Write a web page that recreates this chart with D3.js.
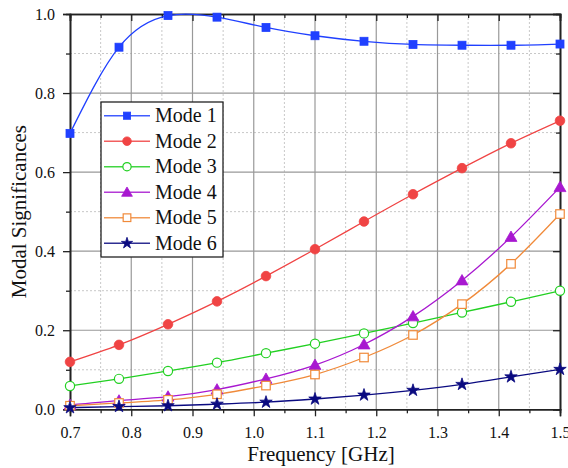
<!DOCTYPE html>
<html><head><meta charset="utf-8"><script src="https://cdn.jsdelivr.net/npm/d3@7"></script></head><body style="margin:0">
<svg id="c" width="568" height="468"></svg>
<script>
const freqs = [0.7,0.78,0.86,0.94,1.02,1.1,1.18,1.26,1.34,1.42,1.5];
const mode1 = [0.698,0.916,0.996,0.992,0.966,0.945,0.931,0.923,0.921,0.921,0.924];
const mode2 = [0.120,0.163,0.215,0.273,0.337,0.405,0.475,0.544,0.610,0.673,0.730];
const mode3 = [0.059,0.077,0.097,0.118,0.142,0.166,0.192,0.218,0.245,0.272,0.300];
const mode4 = [0.011,0.022,0.032,0.050,0.077,0.112,0.164,0.235,0.326,0.436,0.562];
const mode5 = [0.009,0.016,0.024,0.038,0.060,0.088,0.131,0.188,0.266,0.368,0.494];
const mode6 = [0.004,0.007,0.009,0.013,0.018,0.026,0.036,0.048,0.063,0.082,0.101];
const seriesNames = ["Mode 1","Mode 2","Mode 3","Mode 4","Mode 5","Mode 6"];
const xTicks = [0.7,0.8,0.9,1.0,1.1,1.2,1.3,1.4,1.5];
const yTicks = [0.0,0.2,0.4,0.6,0.8,1.0];

const series = [
  {name:seriesNames[0], vals:mode1, color:"#2040ff", marker:"square", fill:true},
  {name:seriesNames[1], vals:mode2, color:"#f04444", marker:"circle", fill:true},
  {name:seriesNames[2], vals:mode3, color:"#22d022", marker:"circle", fill:false},
  {name:seriesNames[3], vals:mode4, color:"#a818d0", marker:"triangle", fill:true},
  {name:seriesNames[4], vals:mode5, color:"#f08a3a", marker:"square", fill:false},
  {name:seriesNames[5], vals:mode6, color:"#0a0a80", marker:"star", fill:true}
];

const svg = d3.select("#c");
const L=70, R=560, T=14, B=409.3;
const x = d3.scaleLinear().domain([0.7,1.5]).range([L,R]);
const y = d3.scaleLinear().domain([0,1]).range([B,T]);

function txt(sel, size){
  return sel.attr("font-family","\"Times New Roman\"").attr("font-size",size).attr("fill","#111");
}

const g = svg.append("g");
const minorX = d3.range(0.75,1.5,0.1);
const minorY = d3.range(0.1,1.0,0.2);
g.selectAll(".mx").data(minorX).enter().append("line")
  .attr("x1",d=>x(d)).attr("x2",d=>x(d)).attr("y1",T).attr("y2",B)
  .attr("stroke","#c8c8c8").attr("stroke-width",1).attr("stroke-dasharray","2,2");
g.selectAll(".my").data(minorY).enter().append("line")
  .attr("y1",d=>y(d)).attr("y2",d=>y(d)).attr("x1",L).attr("x2",R)
  .attr("stroke","#c8c8c8").attr("stroke-width",1).attr("stroke-dasharray","2,2");
g.selectAll(".Mx").data(xTicks.slice(1,-1)).enter().append("line")
  .attr("x1",d=>x(d)).attr("x2",d=>x(d)).attr("y1",T).attr("y2",B)
  .attr("stroke","#999").attr("stroke-width",1.2);
g.selectAll(".My").data(yTicks.slice(1,-1)).enter().append("line")
  .attr("y1",d=>y(d)).attr("y2",d=>y(d)).attr("x1",L).attr("x2",R)
  .attr("stroke","#999").attr("stroke-width",1.2);

const fmt = d3.format(".1f");
function styleAxis(sel){
  sel.attr("font-family",null).attr("font-size",null);
  sel.selectAll("path").attr("stroke","#222").attr("stroke-width",1.6);
  sel.selectAll("line").attr("stroke","#222").attr("stroke-width",1.3);
  txt(sel.selectAll("text"),16);
}
svg.append("g").attr("transform",`translate(0,${B})`).call(d3.axisBottom(x).tickValues(minorX).tickSize(4).tickFormat("")).call(styleAxis);
svg.append("g").attr("transform",`translate(0,${T})`).call(d3.axisTop(x).tickValues(minorX).tickSize(-4).tickFormat("")).call(styleAxis);
svg.append("g").attr("transform",`translate(${L},0)`).call(d3.axisLeft(y).tickValues(minorY).tickSize(4).tickFormat("")).call(styleAxis);
svg.append("g").attr("transform",`translate(${R},0)`).call(d3.axisRight(y).tickValues(minorY).tickSize(-4).tickFormat("")).call(styleAxis);
svg.append("g").attr("transform",`translate(0,${B})`).call(d3.axisBottom(x).tickValues(xTicks).tickSize(7).tickPadding(10).tickFormat(fmt)).call(styleAxis);
svg.append("g").attr("transform",`translate(0,${T})`).call(d3.axisTop(x).tickValues(xTicks).tickSize(-7).tickFormat("")).call(styleAxis);
svg.append("g").attr("transform",`translate(${L},0)`).call(d3.axisLeft(y).tickValues(yTicks).tickSize(7).tickPadding(8).tickFormat(fmt)).call(styleAxis);
svg.append("g").attr("transform",`translate(${R},0)`).call(d3.axisRight(y).tickValues(yTicks).tickSize(-7).tickFormat("")).call(styleAxis);

svg.append("clipPath").attr("id","clip").append("rect").attr("x",L).attr("y",T-1).attr("width",R-L).attr("height",B-T+1);

function drawMarker(sel, s, cx, cy, scale){
  const k = scale||1;
  let el;
  if(s.marker==="square"){
    const a = (s.fill?8:8.5)*k;
    el = sel.append("rect").attr("x",cx-a/2).attr("y",cy-a/2).attr("width",a).attr("height",a);
  } else if(s.marker==="circle"){
    el = sel.append("circle").attr("cx",cx).attr("cy",cy).attr("r",(s.fill?4.8:4.6)*k);
  } else if(s.marker==="triangle"){
    el = sel.append("path").attr("d",d3.symbol(d3.symbolTriangle,62*k*k)()).attr("transform",`translate(${cx},${cy+1})`);
  } else {
    el = sel.append("path").attr("d",d3.symbol(d3.symbolStar,48*k*k)()).attr("transform",`translate(${cx},${cy})`);
  }
  el.attr("fill",s.fill?s.color:"#fff").attr("stroke",s.color).attr("stroke-width",s.fill?0.8:1.2);
}

const line = d3.line().x(d=>x(d[0])).y(d=>y(d[1])).curve(d3.curveNatural);
const plot = svg.append("g").attr("clip-path","url(#clip)");
series.forEach(s=>{
  const pts = freqs.map((f,i)=>[f,s.vals[i]]);
  plot.append("path").attr("d",line(pts)).attr("fill","none").attr("stroke",s.color).attr("stroke-width",1.3);
});
const mk = svg.append("g");
series.forEach(s=>{
  freqs.forEach((f,i)=>drawMarker(mk,s,x(f),y(s.vals[i])));
});

const lg = svg.append("g");
lg.append("rect").attr("x",101).attr("y",102).attr("width",122).attr("height",155).attr("fill","#fff").attr("stroke","#222").attr("stroke-width",1.3);
series.forEach((s,i)=>{
  const cy = 115.7 + i*25.5;
  lg.append("line").attr("x1",104).attr("x2",150).attr("y1",cy).attr("y2",cy).attr("stroke",s.color).attr("stroke-width",1.4).attr("opacity",0.85);
  drawMarker(lg,s,127,cy,0.9);
  txt(lg.append("text").attr("x",155).attr("y",cy+6.5),20).text(s.name);
});

txt(svg.append("text").attr("x",(L+R)/2 + 6).attr("y",461).attr("text-anchor","middle"),21).text("Frequency [GHz]");
txt(svg.append("text").attr("transform",`translate(26,${(T+B)/2}) rotate(-90)`).attr("text-anchor","middle"),21).text("Modal Significances");
</script></body></html>
